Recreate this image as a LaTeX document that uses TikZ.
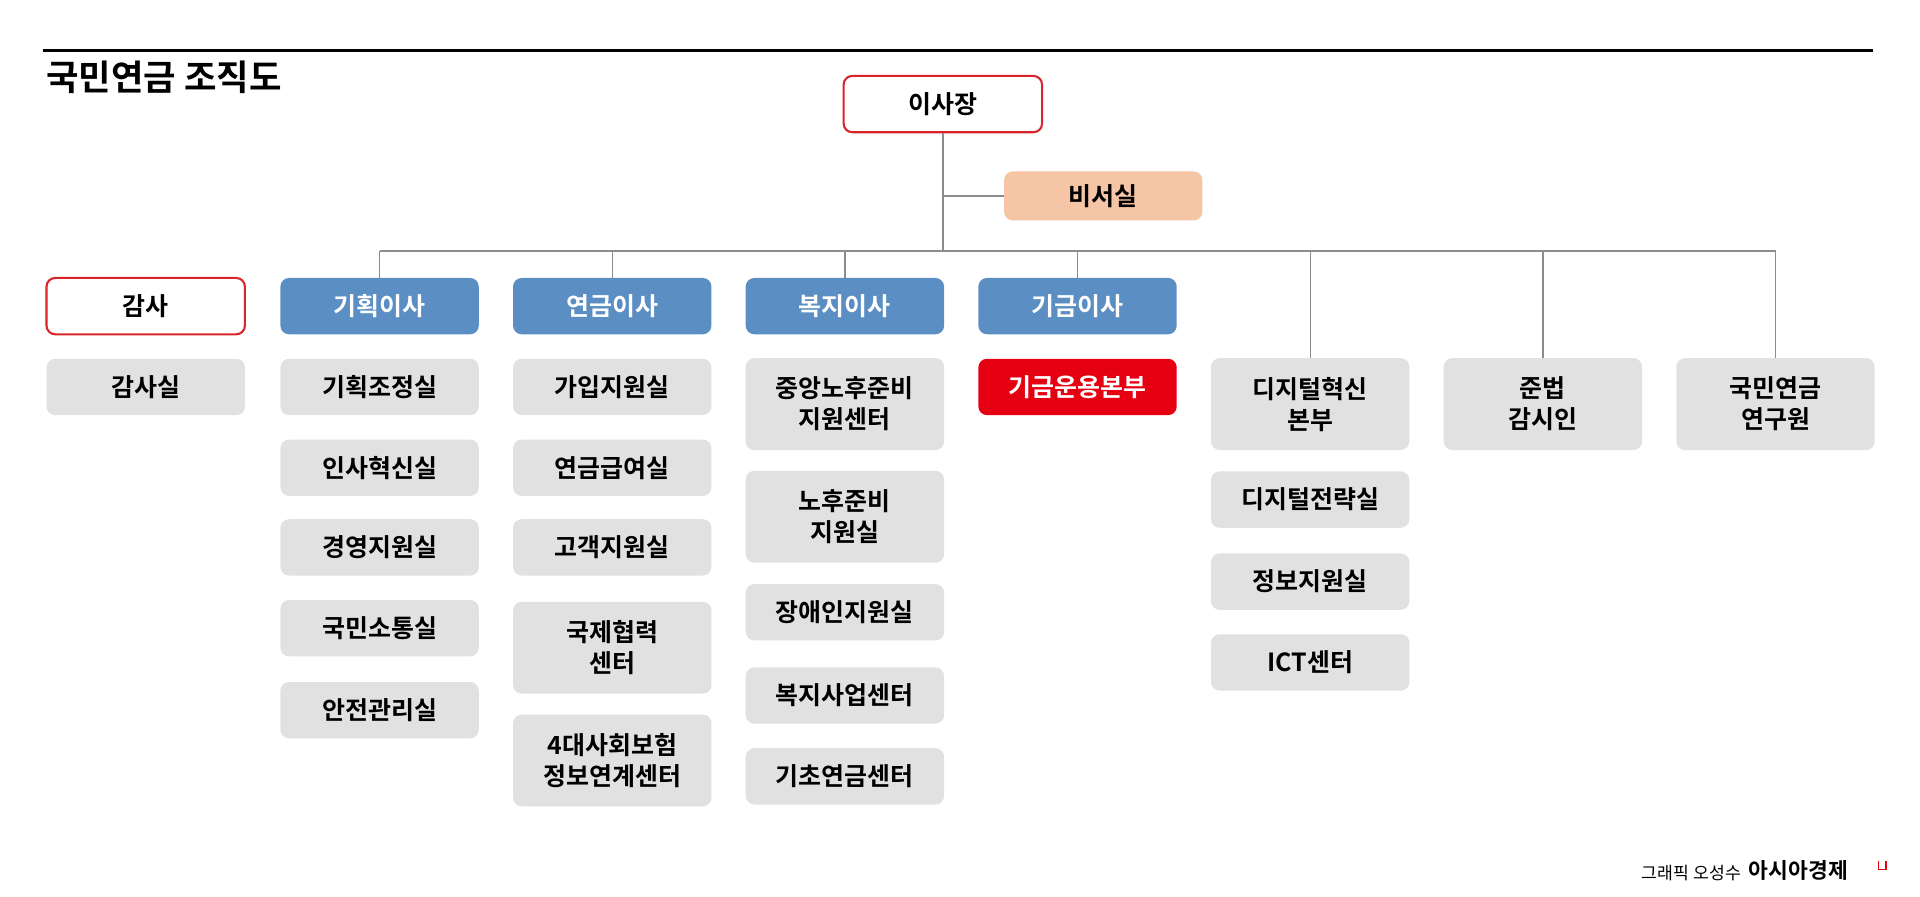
\documentclass[tikz,border=0pt]{standalone}
\usepackage{fontspec}
\setmainfont{Noto Sans CJK KR}
\newfontfamily\kb{Noto Sans CJK KR Bold}
\definecolor{gfill}{HTML}{E1E1E1}
\definecolor{bfill}{HTML}{5B8FC3}
\definecolor{pfill}{HTML}{F6C5A6}
\definecolor{rfill}{HTML}{E50012}
\definecolor{rline}{HTML}{D9242B}
\definecolor{lgray}{HTML}{8C8C8C}
\begin{document}
\begin{tikzpicture}[x=0.025cm,y=-0.025cm,
 base/.style={rounded corners=5pt,minimum width=162*0.025cm,inner sep=0pt,align=center,font=\kb\fontsize{14.5}{18}\selectfont},
 gbox/.style={base,fill=gfill},
 bbox/.style={base,fill=bfill,text=white},
 wbox/.style={base,fill=white,draw=rline,line width=1.2pt},
 conn/.style={draw=lgray,line width=0.8pt}]
\useasboundingbox (0,0) rectangle (1568,732);
\draw[line width=1.6pt] (35,41) -- (1530,41);
\node[anchor=west,font=\kb\fontsize{20.5}{24}\selectfont] (title) at (33,63) {국민연금 조직도};
\node[wbox,minimum height=46*0.025cm] (ceo) at (770,85) {이사장};
\node[base,fill=pfill,minimum height=40*0.025cm] (sec) at (901,160) {비서실};
\coordinate (j) at (770,160);
\coordinate (b) at (770,205);
\draw[conn] (ceo.south) -- (b);
\draw[conn] (j) -- (sec.west);
\coordinate (bl) at (310,205); \coordinate (br) at (1450,205);
\draw[conn] (bl) -- (br);
\def\hh{46*0.025cm}
\node[wbox,minimum height=\hh] (gamsa) at (119,250) {감사};
\node[bbox,minimum height=\hh] (c1) at (310,250) {기획이사};
\node[bbox,minimum height=\hh] (c2) at (500,250) {연금이사};
\node[bbox,minimum height=\hh] (c3) at (690,250) {복지이사};
\node[bbox,minimum height=\hh] (c4) at (880,250) {기금이사};
\def\th{75*0.025cm}
\node[gbox,minimum height=\th] (c5) at (1070,330) {디지털혁신\\본부};
\node[gbox,minimum height=\th] (c6) at (1260,330) {준법\\감시인};
\node[gbox,minimum height=\th] (c7) at (1450,330) {국민연금\\연구원};
\foreach \x/\n in {310/c1,500/c2,690/c3,880/c4,1070/c5,1260/c6,1450/c7}{
 \coordinate (t\n) at (\x,205);
 \draw[conn] (t\n) -- (\n.north);}
\node[gbox,minimum height=\hh] (g1) at (119,316) {감사실};
% 기획
\node[gbox,minimum height=\hh] at (310,316) {기획조정실};
\node[gbox,minimum height=\hh] at (310,382) {인사혁신실};
\node[gbox,minimum height=\hh] at (310,447) {경영지원실};
\node[gbox,minimum height=\hh] at (310,513) {국민소통실};
\node[gbox,minimum height=\hh] at (310,580) {안전관리실};
% 연금
\node[gbox,minimum height=\hh] at (500,316) {가입지원실};
\node[gbox,minimum height=\hh] at (500,382) {연금급여실};
\node[gbox,minimum height=\hh] at (500,447) {고객지원실};
\node[gbox,minimum height=\th] at (500,529) {국제협력\\센터};
\node[gbox,minimum height=\th] at (500,621) {4대사회보험\\정보연계센터};
% 복지
\node[gbox,minimum height=\th] at (690,330) {중앙노후준비\\지원센터};
\node[gbox,minimum height=\th] at (690,422) {노후준비\\지원실};
\node[gbox,minimum height=\hh] at (690,500) {장애인지원실};
\node[gbox,minimum height=\hh] at (690,568) {복지사업센터};
\node[gbox,minimum height=\hh] at (690,634) {기초연금센터};
% 기금
\node[base,fill=rfill,text=white,minimum height=\hh] at (880,316) {기금운용본부};
% 디지털
\node[gbox,minimum height=\hh] at (1070,408) {디지털전략실};
\node[gbox,minimum height=\hh] at (1070,475) {정보지원실};
\node[gbox,minimum height=\hh] at (1070,541) {ICT센터};
% footer
\node[anchor=east,font=\fontsize{10}{12}\selectfont,inner sep=0pt] (cr) at (1422,713) {그래픽 오성수};
\node[anchor=west,font=\kb\fontsize{12.5}{15}\selectfont,inner sep=0pt] (logo) at (1428,711) {아시아경제};
\draw[rfill,line width=1pt] (1534,703) -- (1534,710) -- (1540,710) -- (1540,703);
\end{tikzpicture}
\end{document}
